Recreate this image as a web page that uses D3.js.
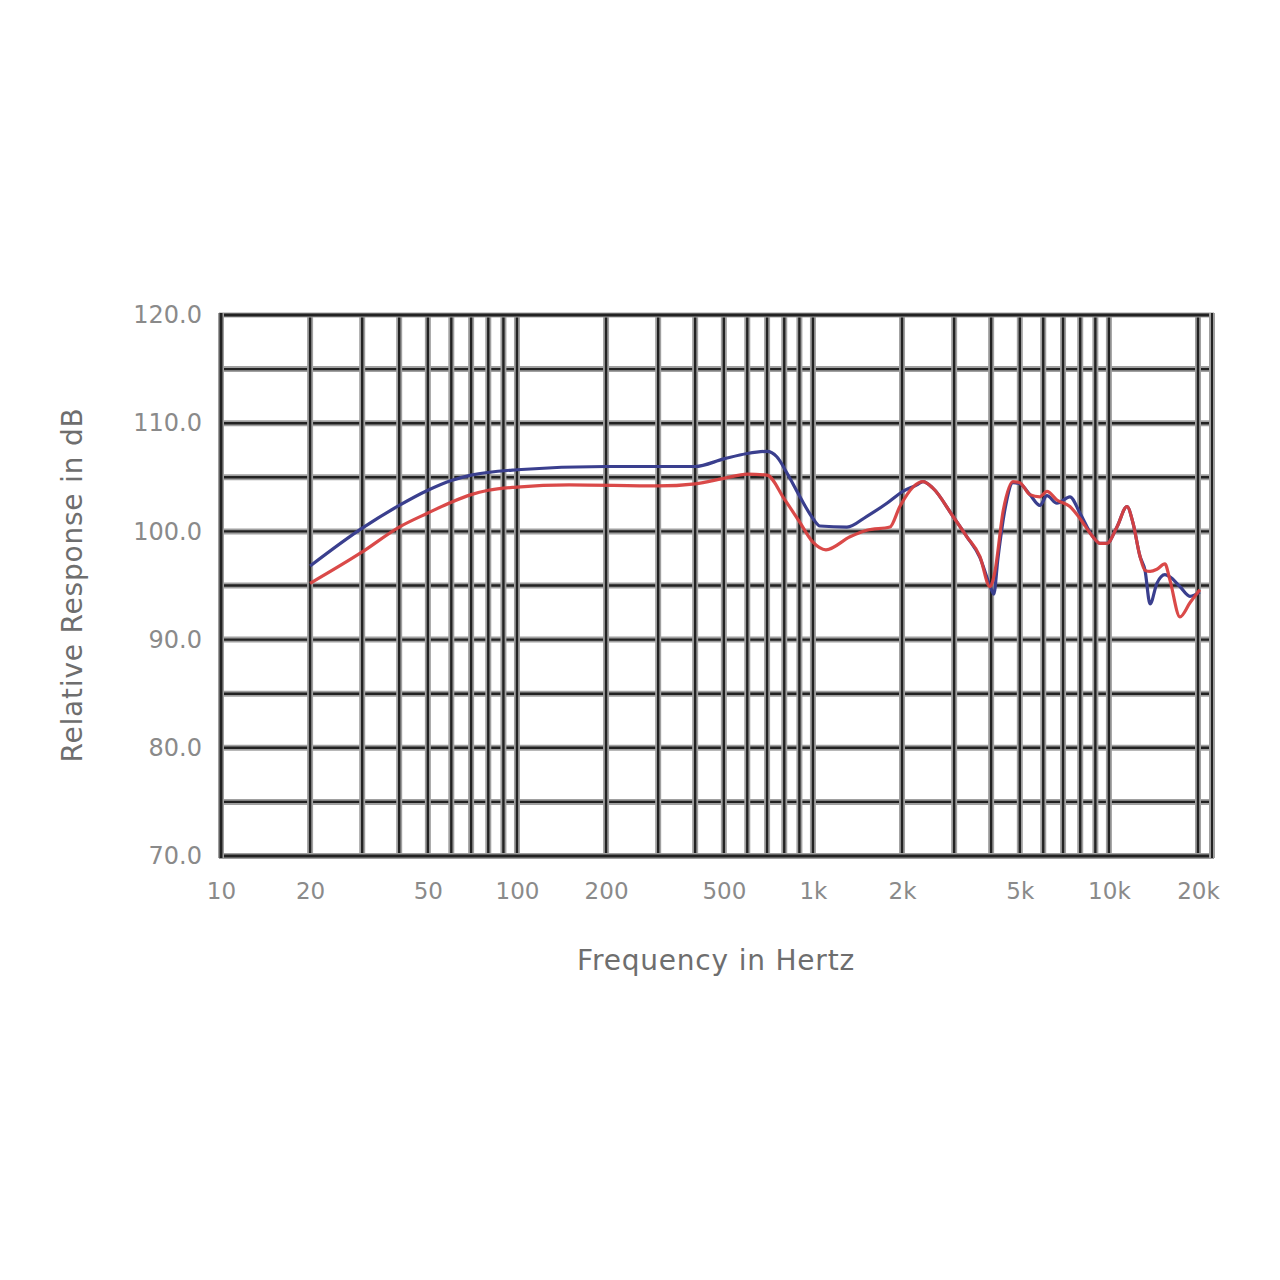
<!DOCTYPE html>
<html>
<head>
<meta charset="utf-8">
<script src="https://cdn.jsdelivr.net/npm/d3@7"></script>
<style>
  html, body { margin: 0; padding: 0; background: #ffffff; }
  svg { display: block; }
</style>
</head>
<body>
<svg id="chart" width="1280" height="1280"></svg>
<script>
// ---- data ----
const xTickValues = [10, 20, 50, 100, 200, 500, 1000, 2000, 5000, 10000, 20000];
const xTickLabels = ["10", "20", "50", "100", "200", "500", "1k", "2k", "5k", "10k", "20k"];
const yTickValues = [70, 80, 90, 100, 110, 120];
const yTickLabels = ["70.0", "80.0", "90.0", "100.0", "110.0", "120.0"];
const xExtent = [10, 22300];
const yExtent = [70, 120];
const gridFreqs = [20, 30, 40, 50, 60, 70, 80, 90, 100, 200, 300, 400, 500, 600, 700, 800, 900,
                   1000, 2000, 3000, 4000, 5000, 6000, 7000, 8000, 9000, 10000, 20000];
const gridDb = [75, 80, 85, 90, 95, 100, 105, 110, 115];

const blueFreq = [20, 30, 40, 50, 60, 70, 100, 200, 400, 500, 600, 700, 755, 817, 904, 1000, 1056, 1303,
                  1521, 1778, 2014, 2245, 2353, 2543, 2971, 3313, 3664, 3962, 4083, 4217, 4487, 4740, 5002,
                  5408, 5846, 6176, 6672, 7383, 7980, 8830, 9328, 9847, 10645, 11509, 12055, 12734, 13243,
                  13772, 14528, 15460, 16077, 17378, 18785, 20290];
const blueDb   = [96.8, 100.3, 102.4, 103.8, 104.7, 105.2, 105.7, 106.0, 106.0, 106.7, 107.2, 107.4, 106.9, 105.4, 103.2, 101.2, 100.5, 100.4,
                  101.4, 102.6, 103.7, 104.3, 104.6, 104.0, 101.4, 99.5, 97.6, 95.0, 94.2, 97.5, 102.5, 104.5, 104.4,
                  103.4, 102.4, 103.3, 102.6, 103.2, 101.7, 99.5, 98.9, 98.9, 100.4, 102.3, 100.8, 97.7, 96.4,
                  93.3, 95.2, 96.0, 95.8, 94.9, 94.0, 94.4];

const redFreq = [20, 30, 40, 50, 60, 70, 80, 100, 150, 300, 400, 500, 600, 700, 800, 900, 1000, 1106, 1334,
                 1521, 1820, 1966, 2178, 2353, 2543, 2971, 3313, 3664, 3962, 4100, 4400, 4740, 5002, 5408,
                 5846, 6176, 6672, 7383, 7980, 8830, 9328, 9847, 10645, 11509, 12055, 12734, 13243, 13772,
                 14528, 15460, 16077, 17378, 18785, 20290];
const redDb   = [95.2, 98.1, 100.4, 101.7, 102.7, 103.4, 103.8, 104.1, 104.3, 104.2, 104.4, 104.9, 105.3, 105.2, 103.0, 100.9, 99.0, 98.3, 99.5,
                 100.1, 100.4, 102.3, 104.1, 104.6, 104.0, 101.4, 99.5, 97.7, 94.9, 96.0, 102.0, 104.6, 104.5, 103.4,
                 103.2, 103.7, 102.9, 102.3, 101.2, 99.5, 98.9, 98.9, 100.4, 102.3, 100.8, 97.7, 96.4, 96.3,
                 96.5, 97.0, 95.5, 92.1, 93.4, 94.6];

// ---- drawing ----
const svg = d3.select("#chart");
const x = d3.scaleLog().domain(xExtent).range([221, 1212]);
const y = d3.scaleLinear().domain(yExtent).range([856, 315]);

const grid = svg.append("g");
function drawV(v, halo, core) {
  grid.append("line").attr("x1", x(v)).attr("x2", x(v)).attr("y1", y(yExtent[1]) - 2).attr("y2", y(yExtent[0]) + 2)
    .attr("stroke", "#a0a0a0").attr("stroke-width", halo);
  grid.append("line").attr("x1", x(v)).attr("x2", x(v)).attr("y1", y(yExtent[1]) - 2).attr("y2", y(yExtent[0]) + 2)
    .attr("stroke", "#222").attr("stroke-width", core);
}
function drawH(v, halo, core) {
  grid.append("line").attr("y1", y(v)).attr("y2", y(v)).attr("x1", x(xExtent[0]) - 2).attr("x2", x(xExtent[1]) + 2)
    .attr("stroke", "#a0a0a0").attr("stroke-width", halo);
  grid.append("line").attr("y1", y(v)).attr("y2", y(v)).attr("x1", x(xExtent[0]) - 2).attr("x2", x(xExtent[1]) + 2)
    .attr("stroke", "#222").attr("stroke-width", core);
}
gridDb.forEach(v => drawH(v, 6, 2.4));
gridFreqs.forEach(v => drawV(v, 6, 2.4));
// frame
drawH(yExtent[0], 6, 3);
drawH(yExtent[1], 5, 3);
drawV(xExtent[0], 6, 3);
drawV(xExtent[1], 6, 2);

const line = d3.line().x(d => x(d[0])).y(d => y(d[1])).curve(d3.curveMonotoneX);
const blue = blueFreq.map((f, i) => [f, blueDb[i]]);
const red = redFreq.map((f, i) => [f, redDb[i]]);
svg.append("path").datum(blue).attr("d", line).attr("fill", "none")
  .attr("stroke", "#3a3f8e").attr("stroke-width", 3.2).attr("stroke-linejoin", "round");
svg.append("path").datum(red).attr("d", line).attr("fill", "none")
  .attr("stroke", "#d8403f").attr("stroke-width", 3.2).attr("stroke-linejoin", "round").attr("opacity", 0.95);

// axes
const font = "'DejaVu Sans', Arial, sans-serif";
const xAxis = d3.axisBottom(x).tickValues(xTickValues)
  .tickFormat((d, i) => xTickLabels[i]).tickSize(0).tickPadding(0);
const gx = svg.append("g").attr("transform", "translate(0,883)").call(xAxis);
gx.select(".domain").remove();
gx.selectAll("text").attr("font-family", font).attr("font-size", 23).attr("fill", "#8a8a8a")
  .attr("dy", "0.71em");

const yAxis = d3.axisLeft(y).tickValues(yTickValues)
  .tickFormat((d, i) => yTickLabels[i]).tickSize(0).tickPadding(0);
const gy = svg.append("g").attr("transform", "translate(202,0)").call(yAxis);
gy.select(".domain").remove();
gy.selectAll("text").attr("font-family", font).attr("font-size", 24).attr("fill", "#8a8a8a");

svg.append("text").attr("x", 716).attr("y", 970).attr("text-anchor", "middle")
  .attr("font-family", font).attr("font-size", 28).attr("letter-spacing", "0.8px").attr("fill", "#6e6e6e")
  .text("Frequency in Hertz");
svg.append("text").attr("transform", "translate(82,585) rotate(-90)").attr("text-anchor", "middle")
  .attr("font-family", font).attr("font-size", 28).attr("letter-spacing", "0.8px").attr("fill", "#6e6e6e")
  .text("Relative Response in dB");
</script>
</body>
</html>
